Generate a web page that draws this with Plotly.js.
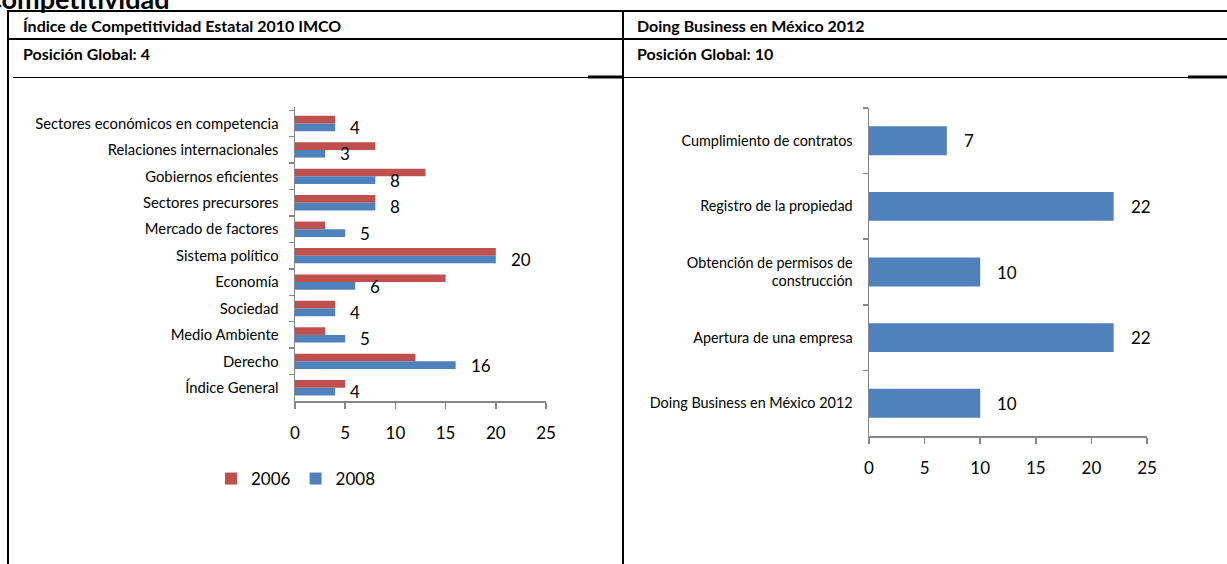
<!DOCTYPE html>
<html>
<head>
<meta charset="utf-8">
<script src="https://cdn.plot.ly/plotly-3.0.1.min.js"></script>
<style>html,body{margin:0;padding:0;background:#fff;}#chart{width:1227px;height:564px;}</style>
</head>
<body>
<div id="chart"></div>
<script>
// ---- Data ----
const leftCategories = [
  "Sectores económicos en competencia",
  "Relaciones internacionales",
  "Gobiernos eficientes",
  "Sectores precursores",
  "Mercado de factores",
  "Sistema político",
  "Economía",
  "Sociedad",
  "Medio Ambiente",
  "Derecho",
  "Índice General"
];
const values2006 = [4, 8, 13, 8, 3, 20, 15, 4, 3, 12, 5];
const values2008 = [4, 3, 8, 8, 5, 20, 6, 4, 5, 16, 4];
const seriesNames = ["2006", "2008"];

const rightCategories = [
  "Cumplimiento de contratos",
  "Registro de la propiedad",
  "Obtención de permisos de<br>construcción",
  "Apertura de una empresa",
  "Doing Business en México 2012"
];
const rightValues = [7, 22, 10, 22, 10];

const xTicks = [0, 5, 10, 15, 20, 25];

const pageHeading = "Competitividad";
const leftTitle = "Índice de Competitividad Estatal 2010 IMCO";
const leftSubtitle = "Posición Global: 4";
const rightTitle = "Doing Business en México 2012";
const rightSubtitle = "Posición Global: 10";

// ---- Layout helpers ----
const W = 1227, H = 564;
const px = v => v / W;
const py = v => 1 - v / H;
const FONT = "Lato, 'Open Sans', sans-serif";
const RED = "#C0504D", BLUE = "#4F81BD", AXIS = "#868686";

const traces = [
  {type: "bar", orientation: "h", name: seriesNames[0], y: leftCategories, x: values2006,
   marker: {color: RED}, xaxis: "x", yaxis: "y", hoverinfo: "skip"},
  {type: "bar", orientation: "h", name: seriesNames[1], y: leftCategories, x: values2008,
   marker: {color: BLUE}, xaxis: "x", yaxis: "y", hoverinfo: "skip"},
  {type: "bar", orientation: "h", name: "Doing Business", y: rightCategories, x: rightValues,
   marker: {color: BLUE}, xaxis: "x2", yaxis: "y2", showlegend: false, hoverinfo: "skip",
   width: 0.44}
];

const annotations = [];
leftCategories.forEach((c, i) => {
  annotations.push({x: values2008[i], y: c, xref: "x", yref: "y", text: String(values2008[i]),
    showarrow: false, xanchor: "left", yanchor: "middle", xshift: 13, yshift: -4,
    font: {family: FONT, size: 17, color: "#000"}});
});
rightCategories.forEach((c, i) => {
  annotations.push({x: rightValues[i], y: c, xref: "x2", yref: "y2", text: String(rightValues[i]),
    showarrow: false, xanchor: "left", yanchor: "middle", xshift: 15, yshift: 0,
    font: {family: FONT, size: 17, color: "#000"}});
});
// table texts
const hdr = (text, x, y, size) => ({text: "<b>" + text + "</b>", x: px(x), y: py(y), xref: "paper", yref: "paper",
  xanchor: "left", yanchor: "middle", showarrow: false, font: {family: FONT, size: size, color: "#000"}});
annotations.push(hdr(leftTitle, 21, 25, 16));
annotations.push(hdr(leftSubtitle, 21, 54, 16));
annotations.push(hdr(rightTitle, 635, 25, 16));
annotations.push(hdr(rightSubtitle, 635, 54, 16));
annotations.push(hdr(pageHeading, -18, -2, 27));

const line = (x0, y0, x1, y1, w) => ({type: "line", xref: "paper", yref: "paper",
  x0: px(x0), y0: py(y0), x1: px(x1), y1: py(y1), line: {color: "#000", width: w}});
const shapes = [
  line(7, 11, 1227, 11, 2),
  line(7, 39, 1227, 39, 2),
  line(13, 77.5, 1227, 77.5, 1),
  line(588, 77, 623, 77, 3),
  line(1188, 77, 1227, 77, 3),
  line(8, 10, 8, 564, 2),
  line(623, 10, 623, 564, 2)
];

const xAxisBase = {range: [0, 25], tickvals: xTicks, ticks: "outside", ticklen: 6, tickcolor: AXIS, tickwidth: 1.5,
  showline: true, linecolor: AXIS, linewidth: 1.5, showgrid: false, zeroline: false, fixedrange: true,
  tickfont: {family: FONT, size: 17, color: "#000"}, ticklabelstandoff: 10};
const yAxisBase = {type: "category", autorange: "reversed", ticks: "outside", ticklen: 5, tickcolor: AXIS, tickwidth: 1.5,
  tickson: "boundaries", showline: true, linecolor: AXIS, linewidth: 1.5, showgrid: false, zeroline: false,
  fixedrange: true, ticklabelstandoff: 12};

const layout = {
  width: W, height: H,
  margin: {l: 0, r: 0, t: 0, b: 0, pad: 0},
  paper_bgcolor: "#fff", plot_bgcolor: "#fff",
  barmode: "group", bargap: 0.42, bargroupgap: 0,
  showlegend: true,
  legend: {orientation: "h", x: px(296), xanchor: "center", y: py(479), yanchor: "middle",
    font: {family: FONT, size: 17, color: "#000"}, itemwidth: 30, tracegroupgap: 0},
  xaxis: Object.assign({}, xAxisBase, {domain: [px(295), px(546)], anchor: "y"}),
  yaxis: Object.assign({}, yAxisBase, {domain: [py(401), py(107)], anchor: "x",
    tickfont: {family: FONT, size: 14.8, color: "#000"}}),
  xaxis2: Object.assign({}, xAxisBase, {domain: [px(869), px(1147)], anchor: "y2"}),
  yaxis2: Object.assign({}, yAxisBase, {domain: [py(436), py(108)], anchor: "x2",
    tickfont: {family: FONT, size: 14.4, color: "#000"}}),
  annotations: annotations,
  shapes: shapes
};

Plotly.newPlot("chart", traces, layout, {displayModeBar: false, staticPlot: true});
</script>
</body>
</html>
